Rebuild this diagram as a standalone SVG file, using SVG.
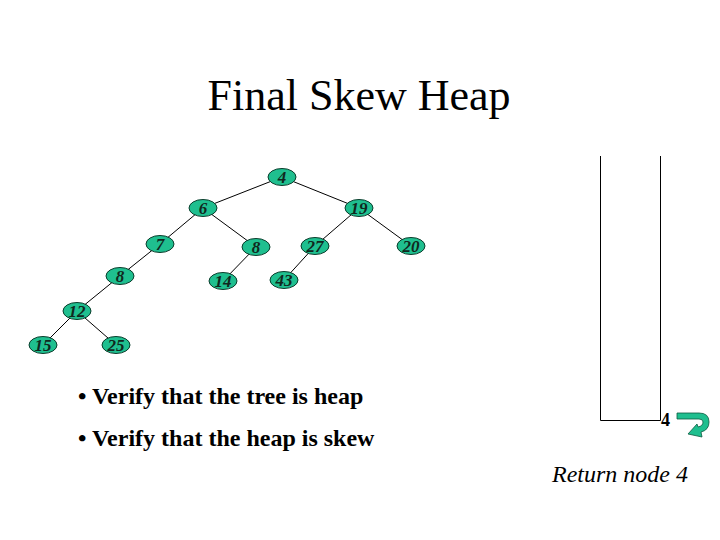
<svg xmlns="http://www.w3.org/2000/svg" width="720" height="540" viewBox="0 0 720 540">
<style>
.n ellipse{fill:#1fbf8f;stroke:#0b3d2c;stroke-width:1}
.n text{font-family:"Liberation Serif",serif;font-style:italic;font-weight:bold;font-size:17px;fill:#10281e;text-anchor:middle}
.e line{stroke:#000;stroke-width:1}
.t{font-family:"Liberation Serif",serif;fill:#000}
</style>
<rect width="720" height="540" fill="#fff"/>
<text class="t" x="359" y="110" font-size="44" text-anchor="middle">Final Skew Heap</text>
<g id="connectors" class="e">
<line x1="282" y1="177" x2="203" y2="208"/>
<line x1="282" y1="177" x2="359" y2="208"/>
<line x1="203" y1="208" x2="160" y2="244"/>
<line x1="203" y1="208" x2="256" y2="247"/>
<line x1="359" y1="208" x2="315" y2="246"/>
<line x1="359" y1="208" x2="411" y2="246"/>
<line x1="160" y1="244" x2="120" y2="276"/>
<line x1="256" y1="247" x2="223" y2="281"/>
<line x1="315" y1="246" x2="284" y2="280"/>
<line x1="120" y1="276" x2="77" y2="311"/>
<line x1="77" y1="311" x2="43" y2="345"/>
<line x1="77" y1="311" x2="116" y2="345"/>
</g>
<g id="n4" class="n"><ellipse cx="282" cy="177" rx="14" ry="8.5"/><text x="282" y="183">4</text></g>
<g id="n6" class="n"><ellipse cx="203" cy="208" rx="14" ry="8.5"/><text x="203" y="214">6</text></g>
<g id="n19" class="n"><ellipse cx="359" cy="208" rx="14" ry="8.5"/><text x="359" y="214">19</text></g>
<g id="n7" class="n"><ellipse cx="160" cy="244" rx="14" ry="8.5"/><text x="160" y="250">7</text></g>
<g id="n8b" class="n"><ellipse cx="256" cy="247" rx="14" ry="8.5"/><text x="256" y="253">8</text></g>
<g id="n27" class="n"><ellipse cx="315" cy="246" rx="14" ry="8.5"/><text x="315" y="252">27</text></g>
<g id="n20" class="n"><ellipse cx="411" cy="246" rx="14" ry="8.5"/><text x="411" y="252">20</text></g>
<g id="n8a" class="n"><ellipse cx="120" cy="276" rx="14" ry="8.5"/><text x="120" y="282">8</text></g>
<g id="n14" class="n"><ellipse cx="223" cy="281" rx="14" ry="8.5"/><text x="223" y="287">14</text></g>
<g id="n43" class="n"><ellipse cx="284" cy="280" rx="14" ry="8.5"/><text x="284" y="286">43</text></g>
<g id="n12" class="n"><ellipse cx="77" cy="311" rx="14" ry="8.5"/><text x="77" y="317">12</text></g>
<g id="n15" class="n"><ellipse cx="43" cy="345" rx="14" ry="8.5"/><text x="43" y="351">15</text></g>
<g id="n25" class="n"><ellipse cx="116" cy="345" rx="14" ry="8.5"/><text x="116" y="351">25</text></g>
<g id="stack">
<path d="M600.5,156 V420.5 H660.5 V156" fill="none" stroke="#000" stroke-width="1"/>
<text class="t" x="661" y="426" font-size="18" font-weight="bold">4</text>
<path d="M677,413 L699,413 Q709,413 709,422 Q709,430 701,432 L702,437 L688,434 L697,424 L698,427 Q703,426 703,422 Q703,419 699,419 L677,419 Z" fill="#1fbf8f" stroke="#0b5a40" stroke-width="0.8"/>
</g>
<text class="t" x="78" y="404" font-size="24" font-weight="bold">• Verify that the tree is heap</text>
<text class="t" x="78" y="446" font-size="24" font-weight="bold">• Verify that the heap is skew</text>
<text class="t" x="688" y="482" font-size="24" font-style="italic" text-anchor="end">Return node 4</text>
</svg>
